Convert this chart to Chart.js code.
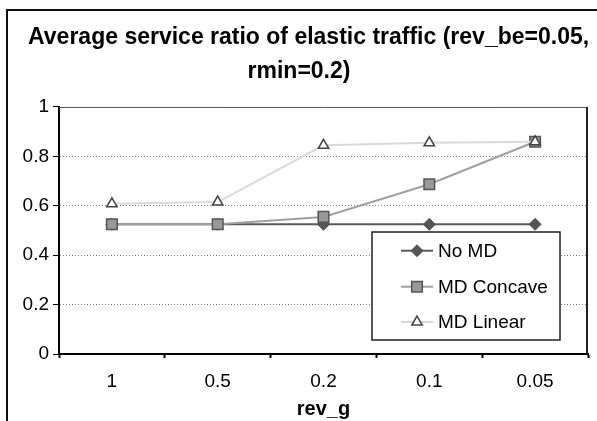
<!DOCTYPE html>
<html>
<head>
<meta charset="utf-8">
<script src="https://cdn.jsdelivr.net/npm/chart.js@4/dist/chart.umd.min.js"></script>
<style>
  body { margin: 0; background: #fff; }
  canvas { display: block; }
</style>
</head>
<body>
<canvas id="LineChart" width="597" height="421"></canvas>
<script>
const revG = ["1", "0.5", "0.2", "0.1", "0.05"]
const noMd = [0.525, 0.525, 0.525, 0.525, 0.525]
const mdConcave = [0.525, 0.525, 0.555, 0.687, 0.859]
const mdLinear = [0.608, 0.615, 0.845, 0.855, 0.859]
const yTicks = [0, 0.2, 0.4, 0.6, 0.8, 1]

const sans = "'Liberation Sans', Arial, sans-serif"
Chart.defaults.font.family = sans
Chart.defaults.color = "#000"

// outer frame of the sheet (top and left edges only, rest is cropped)
const framePlugin = {
	id: "frame",
	beforeDraw(chart) {
		const ctx = chart.ctx
		ctx.save()
		ctx.fillStyle = "#fff"
		ctx.fillRect(0, 0, chart.width, chart.height)
		ctx.fillStyle = "#111"
		ctx.fillRect(6, 9, chart.width - 6, 2)
		ctx.fillRect(6, 9, 2, chart.height - 9)
		ctx.restore()
	},
	beforeDatasetsDraw(chart) {
		const { ctx, chartArea } = chart
		ctx.save()
		ctx.strokeStyle = "#555"
		ctx.lineWidth = 1
		ctx.beginPath()
		ctx.moveTo(chartArea.left, chartArea.top + 0.5)
		ctx.lineTo(chartArea.right, chartArea.top + 0.5)
		ctx.stroke()
		ctx.strokeStyle = "#222"
		ctx.lineWidth = 2
		ctx.beginPath()
		ctx.moveTo(chartArea.right - 1, chartArea.top)
		ctx.lineTo(chartArea.right - 1, chartArea.bottom)
		ctx.stroke()
		ctx.restore()
	},
}

// legend box inside the plot, line sample with marker like Excel
const boxLegend = {
	id: "boxLegend",
	afterDraw(chart) {
		const ctx = chart.ctx
		const box = { x: 372, y: 232, w: 188, h: 108 }
		const rows = [250.7, 286.7, 322]
		ctx.save()
		ctx.fillStyle = "#fff"
		ctx.fillRect(box.x, box.y, box.w, box.h)
		ctx.strokeStyle = "#222"
		ctx.lineWidth = 1.5
		ctx.strokeRect(box.x, box.y, box.w, box.h)
		chart.data.datasets.forEach((ds, i) => {
			const y = rows[i]
			ctx.strokeStyle = ds.borderColor
			ctx.lineWidth = ds.borderWidth
			ctx.beginPath()
			ctx.moveTo(401, y)
			ctx.lineTo(433, y)
			ctx.stroke()
			ctx.fillStyle = ds.pointBackgroundColor
			ctx.strokeStyle = ds.pointBorderColor
			ctx.lineWidth = ds.pointBorderWidth
			Chart.helpers.drawPoint(ctx, {
				pointStyle: ds.pointStyle,
				radius: ds.pointRadius,
				borderWidth: ds.pointBorderWidth,
				rotation: 0,
			}, 417, y)
			ctx.fillStyle = "#000"
			ctx.font = "19px " + sans
			ctx.textBaseline = "middle"
			ctx.fillText(ds.label, 438, y + 1)
		})
		ctx.restore()
	},
}

const ctx = document.getElementById("LineChart").getContext("2d")

new Chart(ctx, {
	type: "line",
	data: {
		labels: revG,
		datasets: [
			{
				label: "No MD",
				data: noMd,
				borderColor: "#5a5a5a",
				borderWidth: 2,
				pointStyle: "rectRot",
				pointRadius: 6,
				pointBackgroundColor: "#555",
				pointBorderColor: "#555",
				pointBorderWidth: 1,
				order: 2,
			},
			{
				label: "MD Concave",
				data: mdConcave,
				borderColor: "#a0a0a0",
				borderWidth: 2,
				pointStyle: "rect",
				pointRadius: 7.5,
				pointBackgroundColor: "#999",
				pointBorderColor: "#555",
				pointBorderWidth: 1.5,
				order: 1,
			},
			{
				label: "MD Linear",
				data: mdLinear,
				borderColor: "#d9d9d9",
				borderWidth: 2,
				pointStyle: "triangle",
				pointRadius: 6,
				pointBackgroundColor: "#fff",
				pointBorderColor: "#444",
				pointBorderWidth: 1.5,
				order: 0,
			},
		],
	},
	options: {
		responsive: false,
		animation: false,
		layout: { padding: { left: 8, right: 7, top: 10, bottom: 0 } },
		plugins: {
			legend: { display: false },
			tooltip: { enabled: false },
			title: {
				display: true,
				text: ["   Average service ratio of elastic traffic (rev_be=0.05,", "rmin=0.2)"],
				color: "#000",
				font: { size: 23, weight: "bold", lineHeight: 1.46 },
				padding: { top: 10.9, bottom: 18.9 },
			},
		},
		scales: {
			x: {
				offset: true,
				grid: {
					offset: true,
					drawOnChartArea: false,
					tickLength: 4,
					tickWidth: 2,
					tickColor: "#000",
				},
				border: { color: "#000", width: 2 },
				ticks: { font: { size: 19 }, padding: 12 },
				title: {
					display: true,
					text: "rev_g",
					font: { size: 20, weight: "bold" },
					padding: { top: 0, bottom: 0 },
				},
				afterFit: (scale) => { scale.height = 67 },
			},
			y: {
				min: 0,
				max: 1,
				afterBuildTicks: (scale) => { scale.ticks = yTicks.map((v) => ({ value: v })) },
				grid: {
					color: (c) => (c.tick && c.tick.value > 0 && c.tick.value < 1 ? "#808080" : "transparent"),
					lineWidth: 1,
					tickLength: 6,
					tickColor: "#000",
				},
				border: { color: "#000", width: 2, dash: [1, 2] },
				ticks: { font: { size: 19 }, padding: 4, callback: (v) => String(v) },
				afterFit: (scale) => { scale.width = 51 },
			},
		},
	},
	plugins: [framePlugin, boxLegend],
})
</script>
</body>
</html>
